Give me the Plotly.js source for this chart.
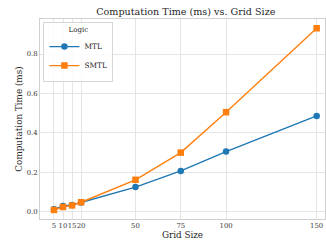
<!DOCTYPE html>
<html><head><meta charset="utf-8">
<script src="https://cdn.plot.ly/plotly-3.0.1.min.js"></script>
<style>html,body{margin:0;padding:0;background:#fff}#c{width:326px;height:241px}</style>
</head><body><div id="c"></div>
<script>
const gridSizes = [5, 10, 15, 20, 50, 75, 100, 150];
const mtlTimes = [0.012, 0.029, 0.034, 0.047, 0.125, 0.207, 0.305, 0.486];
const smtlTimes = [0.009, 0.024, 0.032, 0.048, 0.162, 0.300, 0.505, 0.931];
const seriesNames = ['MTL', 'SMTL'];
const yTicks = [0.0, 0.2, 0.4, 0.6, 0.8];

const font = 'DejaVu Serif, serif';
const traces = [
  {x: gridSizes, y: mtlTimes, name: seriesNames[0], mode: 'lines+markers',
   line: {color: '#1f77b4', width: 1.4}, marker: {symbol: 'circle', size: 6.5, color: '#1f77b4'}},
  {x: gridSizes, y: smtlTimes, name: seriesNames[1], mode: 'lines+markers',
   line: {color: '#ff7f0e', width: 1.4}, marker: {symbol: 'square', size: 6.5, color: '#ff7f0e'}}
];
const layout = {
  width: 326, height: 241,
  margin: {l: 40, r: 1, t: 19, b: 22},
  paper_bgcolor: '#fff', plot_bgcolor: '#fff',
  font: {family: font, color: '#262626', size: 7.2},
  title: {text: 'Computation Time (ms) vs. Grid Size', font: {family: font, size: 9.6, color: '#262626'},
          x: 0.57, xanchor: 'center', y: 0.95, yanchor: 'middle', yref: 'container'},
  showlegend: true,
  legend: {x: 0.012, y: 0.985, xanchor: 'left', yanchor: 'top', bgcolor: 'rgba(255,255,255,0.85)',
           bordercolor: '#d6d6d6', borderwidth: 1, font: {family: font, size: 7.4, color: '#262626'},
           title: {text: 'Logic', side: 'top center', font: {family: font, size: 7, color: '#262626'}},
           tracegroupgap: 0, itemwidth: 30},
  xaxis: {range: [-2.7, 154.6], tickvals: gridSizes, ticktext: gridSizes.map(String), tickangle: 0,
          showgrid: true, gridcolor: '#e5e5e5', gridwidth: 1, zeroline: false, automargin: false,
          showline: true, linecolor: '#d0d0d0', linewidth: 1, mirror: true, ticks: '',
          tickfont: {family: font, size: 6.9, color: '#3a3a3a'},
          title: {text: 'Grid Size', font: {family: font, size: 8.8, color: '#262626'}, standoff: 1}},
  yaxis: {range: [-0.037, 0.978], tickvals: yTicks, ticktext: yTicks.map(v => v.toFixed(1)),
          showgrid: true, gridcolor: '#e5e5e5', gridwidth: 1, zeroline: false, automargin: false,
          showline: true, linecolor: '#d0d0d0', linewidth: 1, mirror: true, ticks: '',
          tickfont: {family: font, size: 6.9, color: '#3a3a3a'},
          title: {text: 'Computation Time (ms)', font: {family: font, size: 8.8, color: '#262626'}, standoff: 2}}
};
Plotly.newPlot('c', traces, layout, {displayModeBar: false, staticPlot: true});
</script></body></html>
